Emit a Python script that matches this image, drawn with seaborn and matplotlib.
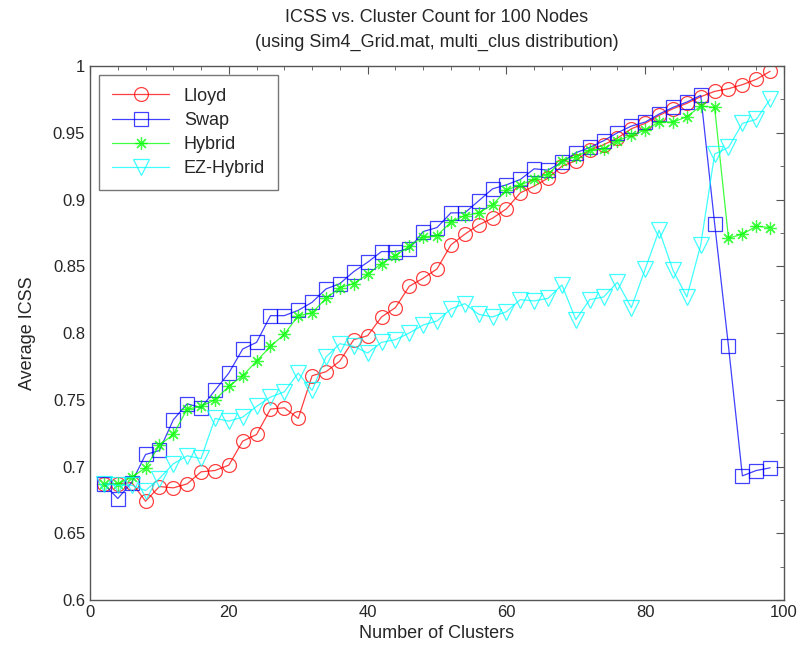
import matplotlib
matplotlib.use("Agg")
import matplotlib.pyplot as plt
from matplotlib.ticker import MultipleLocator
import numpy as np
import pandas as pd
import seaborn as sns

clusters = list(range(2, 100, 2))

lloyd = [0.687, 0.687, 0.688, 0.674, 0.685, 0.684, 0.687, 0.696, 0.697, 0.701,
         0.719, 0.724, 0.743, 0.744, 0.736, 0.768, 0.771, 0.779, 0.795, 0.798,
         0.812, 0.819, 0.835, 0.841, 0.848, 0.866, 0.874, 0.881, 0.886, 0.893,
         0.905, 0.910, 0.916, 0.925, 0.929, 0.937, 0.941, 0.946, 0.953, 0.957,
         0.963, 0.968, 0.972, 0.977, 0.981, 0.983, 0.986, 0.990, 0.996]

swap = [0.687, 0.676, 0.688, 0.709, 0.712, 0.735, 0.747, 0.744, 0.757, 0.770,
        0.788, 0.793, 0.813, 0.813, 0.817, 0.823, 0.833, 0.837, 0.846, 0.853,
        0.861, 0.861, 0.863, 0.876, 0.879, 0.890, 0.890, 0.899, 0.908, 0.911,
        0.915, 0.923, 0.922, 0.928, 0.935, 0.939, 0.944, 0.950, 0.955, 0.958,
        0.964, 0.969, 0.973, 0.978, 0.882, 0.790, 0.693, 0.697, 0.699]

hybrid = [0.687, 0.687, 0.692, 0.699, 0.716, 0.724, 0.743, 0.745, 0.750, 0.760,
          0.768, 0.779, 0.790, 0.799, 0.813, 0.815, 0.826, 0.834, 0.837, 0.844,
          0.852, 0.858, 0.865, 0.872, 0.873, 0.883, 0.888, 0.890, 0.896, 0.907,
          0.911, 0.915, 0.919, 0.929, 0.932, 0.937, 0.938, 0.944, 0.948, 0.952,
          0.958, 0.958, 0.962, 0.970, 0.969, 0.871, 0.874, 0.880, 0.879]

ez_hybrid = [0.687, 0.686, 0.686, 0.682, 0.691, 0.702, 0.708, 0.706, 0.736, 0.734,
             0.737, 0.745, 0.752, 0.756, 0.770, 0.757, 0.782, 0.792, 0.790, 0.785,
             0.793, 0.795, 0.800, 0.806, 0.809, 0.818, 0.822, 0.814, 0.812, 0.816,
             0.825, 0.824, 0.826, 0.836, 0.810, 0.825, 0.827, 0.838, 0.819, 0.848,
             0.877, 0.847, 0.827, 0.866, 0.934, 0.939, 0.957, 0.960, 0.975]

series_names = ["Lloyd", "Swap", "Hybrid", "EZ-Hybrid"]
series_values = [lloyd, swap, hybrid, ez_hybrid]
colors = ["#ff0000", "#0000ff", "#00ff00", "#00ffff"]
markers = ["o", "s", (8, 2, 0), "v"]
msizes = [10, 10, 9, 11]

df = pd.concat([pd.DataFrame({"Clusters": clusters, "ICSS": v, "Method": n})
                for n, v in zip(series_names, series_values)], ignore_index=True)

sns.set_style("white")
plt.rcParams["font.family"] = ["Liberation Sans", "DejaVu Sans"]

fig = plt.figure(figsize=(8.01, 6.6), dpi=100)
ax = fig.add_axes([0.1124, 0.0909, 0.8664, 0.8091])

for name, col, mk, ms in zip(series_names, colors, markers, msizes):
    sub = df[df["Method"] == name]
    sns.lineplot(data=sub, x="Clusters", y="ICSS", ax=ax, color=col,
                 marker=mk, markersize=ms,
                 markerfacecolor="none",
                 markeredgecolor=col, markeredgewidth=0.9,
                 linewidth=0.9, label=name, alpha=0.75, estimator=None,
                 errorbar=None)

ax.set_xlim(0, 100)
ax.set_ylim(0.6, 1.0)
ax.xaxis.set_major_locator(MultipleLocator(20))
ax.xaxis.set_minor_locator(MultipleLocator(4))
ax.yaxis.set_minor_locator(MultipleLocator(0.025))
ax.set_yticks([0.6, 0.65, 0.7, 0.75, 0.8, 0.85, 0.9, 0.95, 1.0])
ax.set_yticklabels(["0.6", "0.65", "0.7", "0.75", "0.8", "0.85", "0.9", "0.95", "1"])
ax.tick_params(which="both", direction="in", top=True, right=True,
               labelsize=12, color="#555555")
ax.tick_params(which="major", length=6)
ax.tick_params(which="minor", length=3)
for sp in ax.spines.values():
    sp.set_color("#555555")
    sp.set_linewidth(1.0)

ax.set_xlabel("Number of Clusters", fontsize=13)
ax.set_ylabel("Average ICSS", fontsize=13, labelpad=12)
ax.set_title("ICSS vs. Cluster Count for 100 Nodes\n(using Sim4_Grid.mat, multi_clus distribution)",
             fontsize=13, linespacing=1.6, pad=14)

leg = ax.legend(loc="upper left", fontsize=13, frameon=True, fancybox=False,
                edgecolor="#555555", handlelength=3.2, borderpad=0.7,
                labelspacing=0.4, bbox_to_anchor=(0.0, 1.0))
leg.get_frame().set_linewidth(1.0)

fig.savefig("out.png", dpi=100)
